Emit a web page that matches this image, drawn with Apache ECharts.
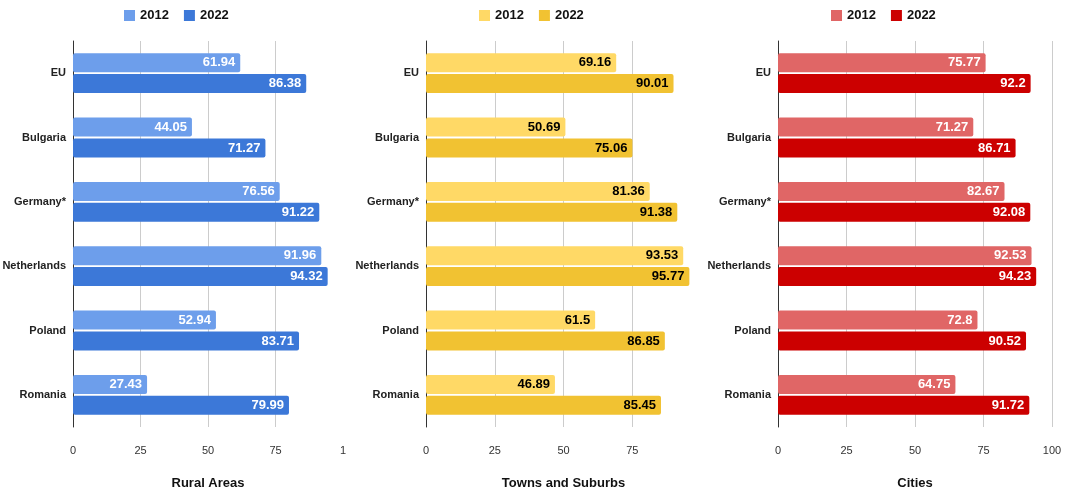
<!DOCTYPE html>
<html>
<head>
<meta charset="utf-8">
<title>2012 vs 2022</title>
<script src="https://cdn.jsdelivr.net/npm/echarts@6/dist/echarts.min.js"></script>
<style>
  html, body { margin: 0; padding: 0; background: #fff; }
  #main { width: 1065px; height: 490px; }
</style>
</head>
<body>
<div id="main"></div>
<script>
// data
var countries = ['EU', 'Bulgaria', 'Germany*', 'Netherlands', 'Poland', 'Romania'];
var years = ['2012', '2022'];
var panelTitles = ['Rural Areas', 'Towns and Suburbs', 'Cities'];
var xTicks = [0, 25, 50, 75, 100];

var rural2012 = [61.94, 44.05, 76.56, 91.96, 52.94, 27.43];
var rural2022 = [86.38, 71.27, 91.22, 94.32, 83.71, 79.99];
var towns2012 = [69.16, 50.69, 81.36, 93.53, 61.5, 46.89];
var towns2022 = [90.01, 75.06, 91.38, 95.77, 86.85, 85.45];
var cities2012 = [75.77, 71.27, 82.67, 92.53, 72.8, 64.75];
var cities2022 = [92.2, 86.71, 92.08, 94.23, 90.52, 91.72];

var font = 'Arial, "Liberation Sans", sans-serif';

var panels = [
	{ data: [rural2012, rural2022], colors: ['#6d9eeb', '#3c78d8'], label: '#ffffff', left: 73, right: 722, legend: 119 },
	{ data: [towns2012, towns2022], colors: ['#ffd966', '#f1c232'], label: '#000000', left: 426, right: 364, legend: 474 },
	{ data: [cities2012, cities2022], colors: ['#e06666', '#cc0000'], label: '#ffffff', left: 778, right: 13, legend: 826 }
];

var grids = [], xAxes = [], yAxes = [], series = [], legends = [];

for (var p = 0; p < panels.length; p++) {
	var pn = panels[p];
	grids.push({ left: pn.left, right: pn.right, top: 41, bottom: 63, outerBoundsMode: 'none', containLabel: false });

	xAxes.push({
		type: 'value',
		gridIndex: p,
		min: xTicks[0],
		max: xTicks[xTicks.length - 1],
		interval: 25,
		name: panelTitles[p],
		nameLocation: 'middle',
		nameGap: 50,
		nameTextStyle: { fontFamily: font, fontWeight: 'bold', fontSize: 13, color: '#111' },
		axisLine: { show: false },
		axisTick: { show: false },
		axisLabel: {
			fontFamily: font, fontSize: 11, color: '#333', margin: 18,
			showMaxLabel: p != 1,
			// the first panel's "100" is cut off in the original
			formatter: function (pi) {
				return function (v) { return (pi == 0 && v == 100) ? '1' : String(v); };
			}(p)
		},
		splitLine: { show: true, showMaxLine: p == 2, lineStyle: { color: '#cccccc', width: 1 } }
	});

	yAxes.push({
		type: 'category',
		gridIndex: p,
		data: countries,
		inverse: true,
		axisLine: { show: true, lineStyle: { color: '#333', width: 1 } },
		axisTick: { show: false },
		axisLabel: { fontFamily: font, fontSize: 11, fontWeight: 'bold', color: '#222', margin: 7 }
	});

	var names = [];
	for (var s = 0; s < 2; s++) {
		var nm = years[s] + (p == 0 ? '' : '\u200b'.repeat(p));
		names.push(nm);
		series.push({
			name: nm,
			type: 'bar',
			xAxisIndex: p,
			yAxisIndex: p,
			data: pn.data[s],
			barWidth: 19,
			barGap: '10%',
			itemStyle: { color: pn.colors[s], borderRadius: 2 },
			label: {
				show: true,
				position: 'insideRight',
				distance: 5,
				fontFamily: font,
				fontSize: 13,
				fontWeight: 'bold',
				color: pn.label
			}
		});
	}

	legends.push({
		data: names,
		left: pn.legend,
		top: 4,
		itemWidth: 11,
		itemHeight: 11,
		itemGap: 15,
		icon: 'rect',
		formatter: function (n) { return n.replace(/\u200b/g, ''); },
		textStyle: { fontFamily: font, fontSize: 13, fontWeight: 'bold', color: '#111' },
		selectedMode: false
	});
}

var myChart = echarts.init(document.getElementById('main'));
myChart.setOption({
	animation: false,
	legend: legends,
	grid: grids,
	xAxis: xAxes,
	yAxis: yAxes,
	series: series
});
</script>
</body>
</html>
